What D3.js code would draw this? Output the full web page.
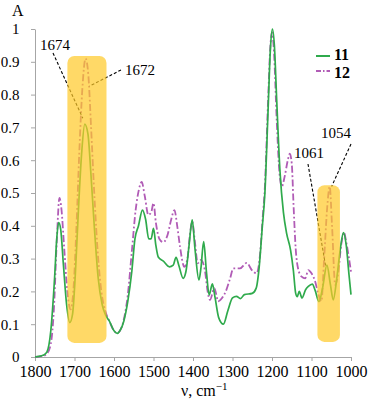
<!DOCTYPE html>
<html>
<head>
<meta charset="utf-8">
<script src="https://cdn.jsdelivr.net/npm/d3@7"></script>
<style>
  body { margin: 0; background: #fff; }
</style>
</head>
<body>
<script>
// wavenumber (cm-1) and absorbance
const wave11 = [1800,1790,1780,1770,1760,1750,1745,1740,1735,1728,1720,1712,1705,1698,1690,1682,1674,1666,1658,1650,1640,1630,1620,1612,1600,1592,1585,1575,1565,1555,1547,1538,1528,1520,1512,1506,1500,1494,1488,1475,1460,1450,1443,1436,1425,1418,1410,1402,1395,1385,1380,1373,1366,1359,1351,1344,1335,1323,1312,1300,1290,1280,1270,1250,1240,1232,1225,1218,1210,1204,1199,1194,1188,1180,1171,1163,1153,1146,1140,1136,1131,1124,1115,1108,1098,1091,1081,1072,1061,1052,1045,1036,1027,1019,1012,1005,1000];
const abs11 = [0,0.002,0.005,0.015,0.08,0.25,0.36,0.41,0.39,0.28,0.16,0.105,0.13,0.25,0.45,0.62,0.71,0.68,0.55,0.4,0.24,0.16,0.125,0.11,0.08,0.072,0.08,0.11,0.17,0.26,0.36,0.4,0.448,0.42,0.36,0.36,0.392,0.34,0.305,0.292,0.275,0.28,0.304,0.28,0.24,0.26,0.34,0.418,0.33,0.235,0.27,0.352,0.26,0.189,0.223,0.18,0.12,0.1,0.14,0.18,0.185,0.178,0.19,0.194,0.21,0.28,0.39,0.5,0.75,0.94,1.0,0.95,0.78,0.57,0.44,0.377,0.326,0.265,0.194,0.184,0.2,0.18,0.205,0.215,0.222,0.204,0.169,0.21,0.28,0.22,0.174,0.24,0.33,0.379,0.34,0.25,0.19];

const wave12 = [1800,1780,1770,1760,1752,1745,1738,1733,1726,1718,1710,1703,1695,1688,1680,1672,1665,1658,1650,1640,1632,1622,1612,1600,1592,1585,1575,1565,1555,1545,1537,1530,1522,1513,1506,1500,1494,1485,1475,1465,1455,1447,1440,1433,1422,1414,1408,1402,1396,1388,1380,1370,1363,1357,1346,1336,1327,1317,1306,1298,1281,1264,1251,1239,1230,1224,1218,1210,1204,1200,1195,1188,1181,1175,1168,1160,1155,1150,1145,1140,1134,1125,1116,1108,1100,1092,1083,1075,1068,1060,1054,1048,1040,1033,1025,1018,1012,1005,1000];
const abs12 = [0,0.003,0.01,0.04,0.15,0.35,0.485,0.45,0.33,0.2,0.145,0.2,0.4,0.62,0.82,0.91,0.86,0.7,0.5,0.3,0.2,0.14,0.11,0.08,0.073,0.08,0.115,0.19,0.32,0.45,0.51,0.534,0.49,0.433,0.44,0.469,0.41,0.36,0.35,0.37,0.42,0.448,0.4,0.337,0.275,0.3,0.37,0.413,0.36,0.286,0.296,0.265,0.2,0.174,0.21,0.17,0.179,0.2,0.24,0.27,0.27,0.287,0.265,0.255,0.316,0.418,0.52,0.78,0.95,0.99,0.93,0.72,0.56,0.52,0.55,0.6,0.62,0.59,0.45,0.33,0.27,0.245,0.24,0.265,0.255,0.235,0.194,0.17,0.3,0.46,0.52,0.4,0.22,0.25,0.34,0.38,0.35,0.3,0.26];

const xTicks = [1800,1700,1600,1500,1400,1300,1200,1100,1000];
const yTicks = [0,0.1,0.2,0.3,0.4,0.5,0.6,0.7,0.8,0.9,1];
const seriesNames = ["11", "12"];

// highlighted bands: [wave from, wave to], [abs bottom, abs top]
const bandWave = [[1718,1619],[1085,1028]];
const bandAbs = [[0.043,0.918],[0.046,0.524]];

// peak labels and the point each leader line ends on
const peakLabels = ["1674","1672","1061","1054"];
const peakWave = [1679,1662,1064,1049];
const peakAbs = [0.728,0.826,0.276,0.52];

const FONT = "'Liberation Serif', 'Times New Roman', 'DejaVu Serif', serif";
const W = 368, H = 403;
const x = d3.scaleLinear().domain([1800,1000]).range([35,351]);
const y = d3.scaleLinear().domain([0,1]).range([357,29]);

const svg = d3.select("body").append("svg")
    .attr("width", W)
    .attr("height", H)
    .attr("font-family", FONT);

// axes
const xAxis = svg.append("g")
    .attr("transform", "translate(0," + y(0) + ")")
    .call(d3.axisBottom(x).tickValues(xTicks).tickSize(4).tickSizeOuter(0).tickPadding(5)
        .tickFormat(d3.format("d")));
xAxis.attr("font-family", FONT);
xAxis.selectAll("text").style("font-family", FONT).style("font-size", "16px").style("fill", "#000");

const yAxis = svg.append("g")
    .attr("transform", "translate(" + x(1800) + ",0)")
    .call(d3.axisLeft(y).tickValues(yTicks).tickSize(4).tickSizeOuter(0).tickPadding(11.5)
        .tickFormat(d => String(+d.toFixed(1))));
yAxis.attr("font-family", FONT);
yAxis.selectAll("text").style("font-family", FONT).style("font-size", "15px").style("fill", "#000");

svg.selectAll(".domain, .tick line").attr("stroke", "#a6a6a6").attr("stroke-width", 1);

// axis titles
svg.append("text").attr("x", 12).attr("y", 16)
    .style("font-family", FONT).style("font-size", "16px").text("A");
const xt = svg.append("text").attr("x", 181).attr("y", 396)
    .style("font-family", FONT).style("font-size", "16px");
xt.append("tspan").text("ν, cm");
xt.append("tspan").attr("dy", -6).style("font-size", "11px").text("−1");

// spectra
const line = d3.line()
    .x(d => x(d[0]))
    .y(d => y(d[1]))
    .curve(d3.curveMonotoneX);

const data11 = wave11.map((w, i) => [w, abs11[i]]);
const data12 = wave12.map((w, i) => [w, abs12[i]]);

svg.append("path")
    .datum(data12)
    .attr("d", line)
    .attr("fill", "none")
    .attr("stroke", "#b15cb6")
    .attr("stroke-width", 1.8)
    .attr("stroke-dasharray", "7,2.5,1.8,2.5");

svg.append("path")
    .datum(data11)
    .attr("d", line)
    .attr("fill", "none")
    .attr("stroke", "#2faa4c")
    .attr("stroke-width", 1.7);

// annotation leader lines
const labelPos = [[40,50],[125,75],[294,158],[321,138]];
const lineStart = [[53,53],[121,70],[308,164],[351,144]];
peakLabels.forEach(function(lbl, i) {
    svg.append("line")
        .attr("x1", lineStart[i][0]).attr("y1", lineStart[i][1])
        .attr("x2", x(peakWave[i])).attr("y2", y(peakAbs[i]))
        .attr("stroke", "#000")
        .attr("stroke-width", 1.1)
        .attr("stroke-dasharray", "3,2");
    svg.append("text")
        .attr("x", labelPos[i][0]).attr("y", labelPos[i][1])
        .style("font-family", FONT)
        .style("font-size", "15px")
        .text(lbl);
});

// highlight bands over the curves
bandWave.forEach(function(b, i) {
    svg.append("rect")
        .attr("x", x(b[0]))
        .attr("y", y(bandAbs[i][1]))
        .attr("width", x(b[1]) - x(b[0]))
        .attr("height", y(bandAbs[i][0]) - y(bandAbs[i][1]))
        .attr("rx", 7)
        .attr("fill", "#ffc926")
        .attr("opacity", 0.7);
});

// legend
const legY = [56, 71];
const legStroke = ["#2faa4c", "#b15cb6"];
const legDash = [null, "5,2,1.5,2"];
seriesNames.forEach(function(s, i) {
    svg.append("line")
        .attr("x1", 316).attr("x2", 330)
        .attr("y1", legY[i]).attr("y2", legY[i])
        .attr("stroke", legStroke[i])
        .attr("stroke-width", 2)
        .attr("stroke-dasharray", legDash[i]);
    svg.append("text")
        .attr("x", 334).attr("y", legY[i] + (i === 0 ? 4 : 7))
        .style("font-family", FONT)
        .style("font-size", "16px")
        .style("font-weight", "bold")
        .text(s);
});
</script>
</body>
</html>
